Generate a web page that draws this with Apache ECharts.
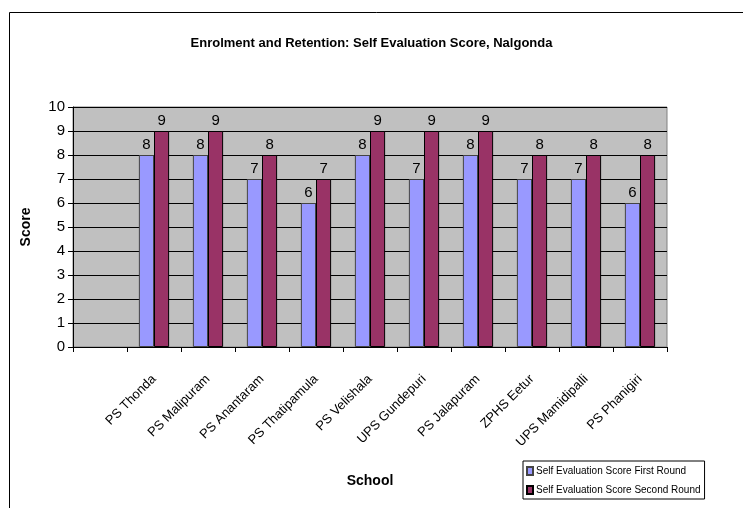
<!DOCTYPE html>
<html>
<head>
<meta charset="utf-8">
<script src="https://cdn.jsdelivr.net/npm/echarts@6/dist/echarts.min.js"></script>
<style>
  html, body { margin: 0; padding: 0; background: #fff; }
  #chart { width: 743px; height: 508px; }
</style>
</head>
<body>
<div id="chart"></div>
<script>
// first slot on the axis is empty in the original
const schools = ['', 'PS Thonda', 'PS Malipuram', 'PS Anantaram', 'PS Thatipamula', 'PS Velishala',
  'UPS Gundepuri', 'PS Jalapuram', 'ZPHS Eetur', 'UPS Mamidipalli', 'PS Phanigiri'];
const firstRound = [null, 8, 8, 7, 6, 8, 7, 8, 7, 7, 6];
const secondRound = [null, 9, 9, 8, 7, 9, 9, 9, 8, 8, 8];
const seriesNames = ['Self Evaluation Score First Round', 'Self Evaluation Score Second Round'];

const font = '"Liberation Sans", Arial, sans-serif';

var myChart = echarts.init(document.getElementById('chart'));

const option = {
  backgroundColor: '#fff',
  animation: false,
  title: {
    text: 'Enrolment and Retention: Self Evaluation Score, Nalgonda',
    left: 'center',
    top: 32,
    textStyle: { fontFamily: font, fontSize: 13, fontWeight: 'bold', color: '#000' }
  },
  graphic: [
    {
      type: 'rect',
      left: 7, top: 10,
      shape: { width: 800, height: 600 },
      style: { fill: 'none', stroke: '#000', lineWidth: 1 },
      silent: true
    }
  ],
  grid: {
    left: 73,
    right: 76,
    top: 107,
    bottom: 161,
    show: true,
    backgroundColor: '#C0C0C0',
    borderColor: '#808080',
    borderWidth: 1
  },
  legend: {
    orient: 'vertical',
    left: 523,
    top: 461,
    data: seriesNames,
    backgroundColor: '#fff',
    borderColor: '#000',
    borderWidth: 1,
    borderRadius: 0,
    padding: [5, 4, 4, 3],
    itemWidth: 6,
    itemHeight: 8,
    itemGap: 9,
    icon: 'rect',
    textStyle: { fontFamily: font, fontSize: 10, color: '#000', padding: [0, 0, 0, -2] }
  },
  xAxis: {
    type: 'category',
    data: schools,
    name: 'School',
    nameLocation: 'middle',
    nameGap: 127,
    nameTextStyle: { fontFamily: font, fontSize: 14, fontWeight: 'bold', color: '#000' },
    axisLine: { lineStyle: { color: '#000', width: 1 } },
    axisTick: { show: true, interval: 0, length: 5, lineStyle: { color: '#000' } },
    axisLabel: {
      interval: 0,
      rotate: 45,
      margin: 30,
      fontFamily: font,
      fontSize: 13,
      color: '#000'
    },
    splitLine: { show: false }
  },
  yAxis: {
    type: 'value',
    min: 0,
    max: 10,
    interval: 1,
    name: 'Score',
    nameLocation: 'middle',
    nameGap: 40,
    nameRotate: 90,
    nameTextStyle: { fontFamily: font, fontSize: 14, fontWeight: 'bold', color: '#000' },
    axisLine: { show: true, lineStyle: { color: '#000', width: 1 } },
    axisTick: { show: true, length: 5, lineStyle: { color: '#000' } },
    axisLabel: { fontFamily: font, fontSize: 15, color: '#000', margin: 8 },
    splitLine: { show: true, lineStyle: { color: '#000', width: 1 } }
  },
  series: [
    {
      name: seriesNames[0],
      type: 'bar',
      data: firstRound,
      barGap: '0%',
      barCategoryGap: '44%',
      itemStyle: { color: '#9999FF', borderColor: '#444', borderWidth: 1 },
      label: { show: true, position: 'top', distance: 3, fontFamily: font, fontSize: 15, color: '#000' }
    },
    {
      name: seriesNames[1],
      type: 'bar',
      data: secondRound,
      itemStyle: { color: '#993366', borderColor: '#000', borderWidth: 1 },
      label: { show: true, position: 'top', distance: 3, fontFamily: font, fontSize: 15, color: '#000' }
    }
  ]
};
option && myChart.setOption(option);
</script>
</body>
</html>
